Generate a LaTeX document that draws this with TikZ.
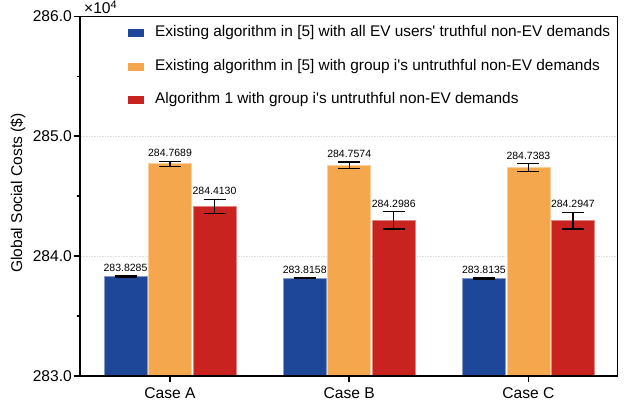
\documentclass[tikz,border=0pt]{standalone}
\usepackage{fontspec}
\setmainfont{Liberation Sans}[Ligatures=TeXOff]
\definecolor{cblue}{HTML}{1F4799}
\definecolor{corange}{HTML}{F4A74D}
\definecolor{cred}{HTML}{C8231F}
\begin{document}
\begin{tikzpicture}[x=1pt,y=-1pt,
  declare function={vy(\v)=375.8-(\v-283)*119.8;},
  axisline/.style={line width=1.5pt,black},
  errbar/.style={line width=1.4pt,black},
  ticklab/.style={font=\fontsize{15.6}{18}\selectfont,inner sep=0pt},
  vallab/.style={font=\fontsize{10.5}{12}\selectfont,inner sep=0pt,anchor=base},
  legtext/.style={font=\fontsize{15.4}{18}\selectfont,inner sep=0pt,anchor=west},
  gridline/.style={gray!25,densely dotted,line width=0.6pt}]
\useasboundingbox (0,0) rectangle (629,404);
% grid
\foreach \v in {284,285}{\draw[gridline] (81,{vy(\v)}) -- (616.5,{vy(\v)});}
% bars
\foreach \cx/\val/\err/\col/\nm in {
 125.5/283.8285/0.004/cblue/a1, 170/284.7689/0.021/corange/a2, 214.5/284.4130/0.06/cred/a3,
 304.7/283.8158/0.004/cblue/b1, 349.2/284.7574/0.028/corange/b2, 393.7/284.2986/0.072/cred/b3,
 483.9/283.8135/0.004/cblue/c1, 528.4/284.7383/0.032/corange/c2, 572.9/284.2947/0.07/cred/c3}{
  \pgfmathsetmacro\ytop{vy(\val)}
  \pgfmathsetmacro\yhi{vy(\val+\err)}
  \pgfmathsetmacro\ylo{vy(\val-\err)}
  \filldraw[fill=\col,draw=\col!55!white,line width=0.8pt] (\cx-21.5,375.8) rectangle (\cx+21.5,\ytop);
  \draw[errbar] (\cx,\yhi) -- (\cx,\ylo);
  \draw[errbar] (\cx-11,\yhi) -- (\cx+11,\yhi);
  \draw[errbar] (\cx-11,\ylo) -- (\cx+11,\ylo);
  \node[vallab] (\nm) at (\cx,\yhi-4.5) {\val};
}
% frame and ticks
\draw[axisline] (80,{vy(286)}) rectangle (617.5,{vy(283)});
\foreach \v in {283,284,285,286}{
  \draw[axisline] (74,{vy(\v)}) -- (80,{vy(\v)});
  \node[ticklab,anchor=east] (t\v) at (72,{vy(\v)}) {\v.0};
}
\foreach \v in {283.5,284.5,285.5}{\draw[axisline] (76.5,{vy(\v)}) -- (80,{vy(\v)});}
\foreach \cx/\lab/\nm in {170/A/ca,349.2/B/cb,528.4/C/cc}{
  \draw[axisline] (\cx,{vy(283)}) -- (\cx,382);
  \node[ticklab,anchor=base] (\nm) at (\cx,398.5) {Case \lab};
}
\node[ticklab,anchor=base west] (mult) at (84,13.5) {×10\textsuperscript{4}};
\node[ticklab,rotate=90] (ylab) at (18,193) {Global Social Costs (\$)};
% legend
\foreach \y/\col/\txt/\nm in {
  33/cblue/{Existing algorithm in [5] with all EV users' truthful non-EV demands}/l1,
  67/corange/{Existing algorithm in [5] with group i's untruthful non-EV demands}/l2,
  100/cred/{Algorithm 1 with group i's untruthful non-EV demands}/l3}{
  \fill[\col] (128,\y-4) rectangle (144,\y+4);
  \node[legtext] (\nm) at (155,\y) {\txt};
}
\end{tikzpicture}
\end{document}
